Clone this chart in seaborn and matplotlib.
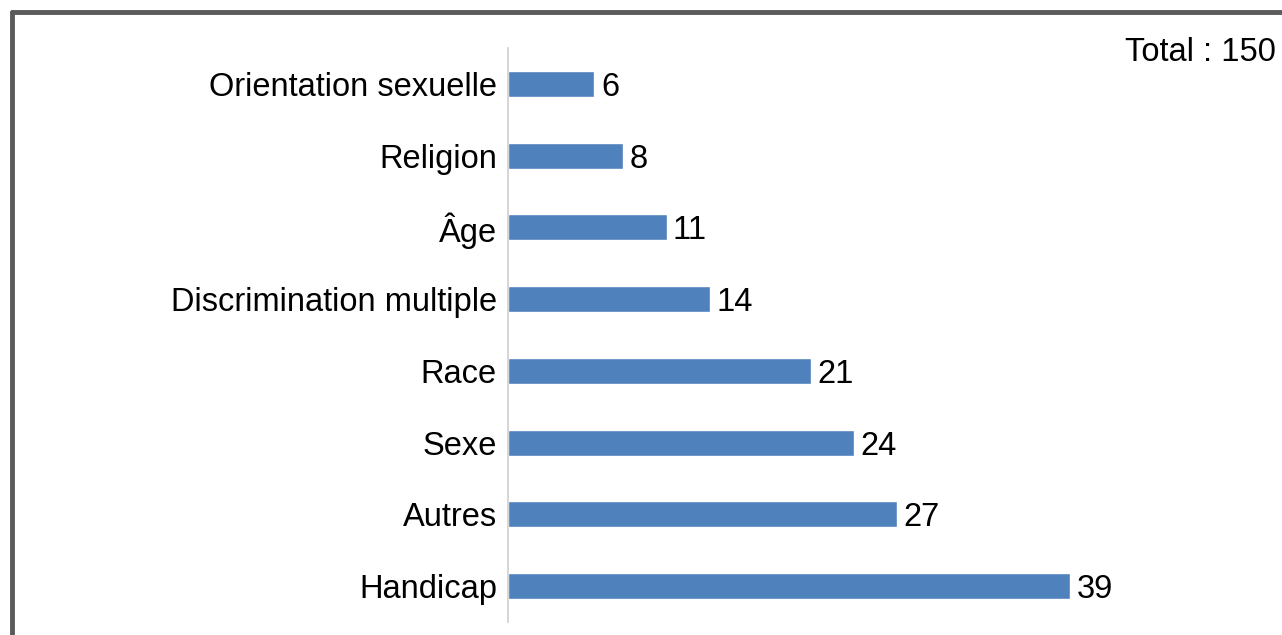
import matplotlib.pyplot as plt
import seaborn as sns
import pandas as pd
from matplotlib.lines import Line2D

categories = ["Orientation sexuelle", "Religion", "Âge", "Discrimination multiple",
              "Race", "Sexe", "Autres", "Handicap"]
values = [6, 8, 11, 14, 21, 24, 27, 39]
total_label = "Total : 150"

sns.set_theme(style="white")
plt.rcParams["font.family"] = ["Liberation Sans", "DejaVu Sans"]

df = pd.DataFrame({"cat": categories, "val": values})

W, H = 1282, 635
FS = 23.5
fig = plt.figure(figsize=(W / 100, H / 100), dpi=100)
ax = fig.add_axes([508 / W, 13 / H, 720.5 / W, 574 / H])

sns.barplot(data=df, x="val", y="cat", orient="h", color="#4f81bd",
            saturation=1, width=0.36, ax=ax)
ax.set_xlim(0, 50)
ax.set_ylim(7.5, -0.5)
ax.set_xlabel("")
ax.set_ylabel("")
ax.set_xticks([])
for s in ["top", "right", "bottom"]:
    ax.spines[s].set_visible(False)
ax.spines["left"].set_color("#d0d0d0")
ax.spines["left"].set_linewidth(1.2)
ax.tick_params(axis="y", length=0, pad=8, labelsize=FS, labelcolor="black")

for i, v in enumerate(values):
    ax.text(v + 0.45, i, str(v), va="center_baseline", ha="left", fontsize=FS,
            color="black")

fig.text(1276 / W, 1 - 49 / H, total_label, ha="right", va="center_baseline",
         fontsize=FS, color="black")

# outer frame (only top and left visible)
fig.add_artist(Line2D([12 / W, 1], [1 - 12 / H, 1 - 12 / H], color="#5a5a5a", lw=3.5,
                      transform=fig.transFigure))
fig.add_artist(Line2D([12 / W, 12 / W], [0, 1 - 12 / H], color="#5a5a5a", lw=3.5,
                      transform=fig.transFigure))

fig.savefig("out.png", dpi=100)
